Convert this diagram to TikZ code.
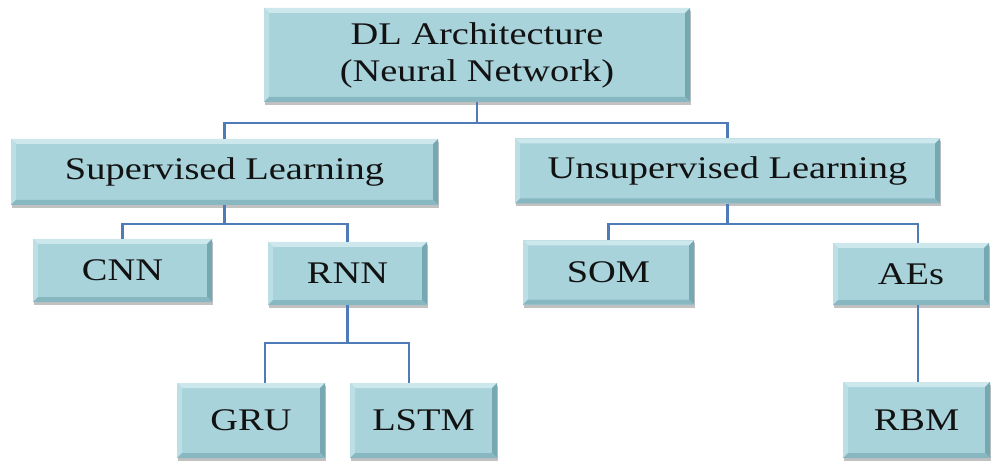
\documentclass[tikz,border=0pt]{standalone}
\usepackage{fontspec}
\setmainfont{Liberation Serif}
\usetikzlibrary{shadows,calc}

\definecolor{boxfill}{RGB}{168,211,219}
\definecolor{bevtop}{RGB}{205,232,237}
\definecolor{bevleft}{RGB}{188,223,230}
\definecolor{bevright}{RGB}{118,168,178}
\definecolor{bevbottom}{RGB}{135,184,194}
\definecolor{linkblue}{RGB}{79,123,185}
\definecolor{inkcol}{RGB}{18,18,18}

\newcommand{\widetext}[1]{\scalebox{1.22}[1]{#1}}

\tikzset{
  bevelbox/.style={
    rectangle, inner sep=0pt, fill=boxfill, text=inkcol,
    font=\fontsize{31.5}{37}\selectfont, align=center,
    drop shadow={shadow xshift=1pt, shadow yshift=-3pt, opacity=0.35, fill=black!70},
    path picture={
      \path (path picture bounding box.south west) coordinate (bsw)
            (path picture bounding box.north east) coordinate (bne);
      \fill[bevtop] (bsw |- bne) -- (bne) -- ($(bne)+(-5pt,-5pt)$) -- ($(bsw |- bne)+(5pt,-5pt)$) -- cycle;
      \fill[bevleft] (bsw |- bne) -- (bsw) -- ($(bsw)+(5pt,5pt)$) -- ($(bsw |- bne)+(5pt,-5pt)$) -- cycle;
      \fill[bevright] (bne) -- (bne |- bsw) -- ($(bne |- bsw)+(-5pt,5pt)$) -- ($(bne)+(-5pt,-5pt)$) -- cycle;
      \fill[bevbottom] (bsw) -- (bne |- bsw) -- ($(bne |- bsw)+(-5pt,5pt)$) -- ($(bsw)+(5pt,5pt)$) -- cycle;
    }
  },
  link/.style={draw=linkblue, line width=2.2pt}
}

\begin{document}
\begin{tikzpicture}[x=1pt, y=1pt]
  \useasboundingbox (0,0) rectangle (993,461);

  % boxes
  \node[bevelbox, minimum width=426pt, minimum height=94pt] (top) at (477,406)
    {\widetext{DL Architecture}\\\widetext{(Neural Network)}};
  \node[bevelbox, minimum width=427pt, minimum height=66pt] (sup) at (224.5,289)
    {\widetext{Supervised Learning}};
  \node[bevelbox, minimum width=425pt, minimum height=65pt] (unsup) at (727.5,290)
    {\widetext{Unsupervised Learning}};
  \node[bevelbox, minimum width=179pt, minimum height=63pt] (cnn) at (122.5,190.5)
    {\widetext{CNN}};
  \node[bevelbox, minimum width=159pt, minimum height=63pt] (rnn) at (347.5,187.5)
    {\widetext{RNN}};
  \node[bevelbox, minimum width=171pt, minimum height=64pt] (som) at (608.5,188.5)
    {\widetext{SOM}};
  \node[bevelbox, minimum width=156pt, minimum height=62pt] (aes) at (911,187)
    {\widetext{AEs}};
  \node[bevelbox, minimum width=148pt, minimum height=75pt] (gru) at (251,40.5)
    {\widetext{GRU}};
  \node[bevelbox, minimum width=147pt, minimum height=75pt] (lstm) at (423.5,40.5)
    {\widetext{LSTM}};
  \node[bevelbox, minimum width=147pt, minimum height=76pt] (rbm) at (916.5,41)
    {\widetext{RBM}};

  % junction points of the tree
  \coordinate (jtop) at (478,338);
  \coordinate (jsup) at (225,237);
  \coordinate (junsup) at (728,237);
  \coordinate (jrnn) at (348,118);

  % connectors
  \draw[link] (top.south) -- (top.south |- jtop);
  \draw[link] (sup.north) |- (jtop) -| (unsup.north);

  \draw[link] (sup.south) -- (sup.south |- jsup);
  \draw[link] (cnn.north) |- (jsup) -| (rnn.north);

  \draw[link] (unsup.south) -- (unsup.south |- junsup);
  \draw[link] (som.north) |- (junsup) -| ([xshift=7pt]aes.north);

  \draw[link] (rnn.south) -- (rnn.south |- jrnn);
  \draw[link] ([xshift=14pt]gru.north) |- (jrnn) -| ([xshift=-14.5pt]lstm.north);

  \draw[link] ([xshift=7pt]aes.south) -- ([xshift=7pt]aes.south |- rbm.north);
\end{tikzpicture}
\end{document}
